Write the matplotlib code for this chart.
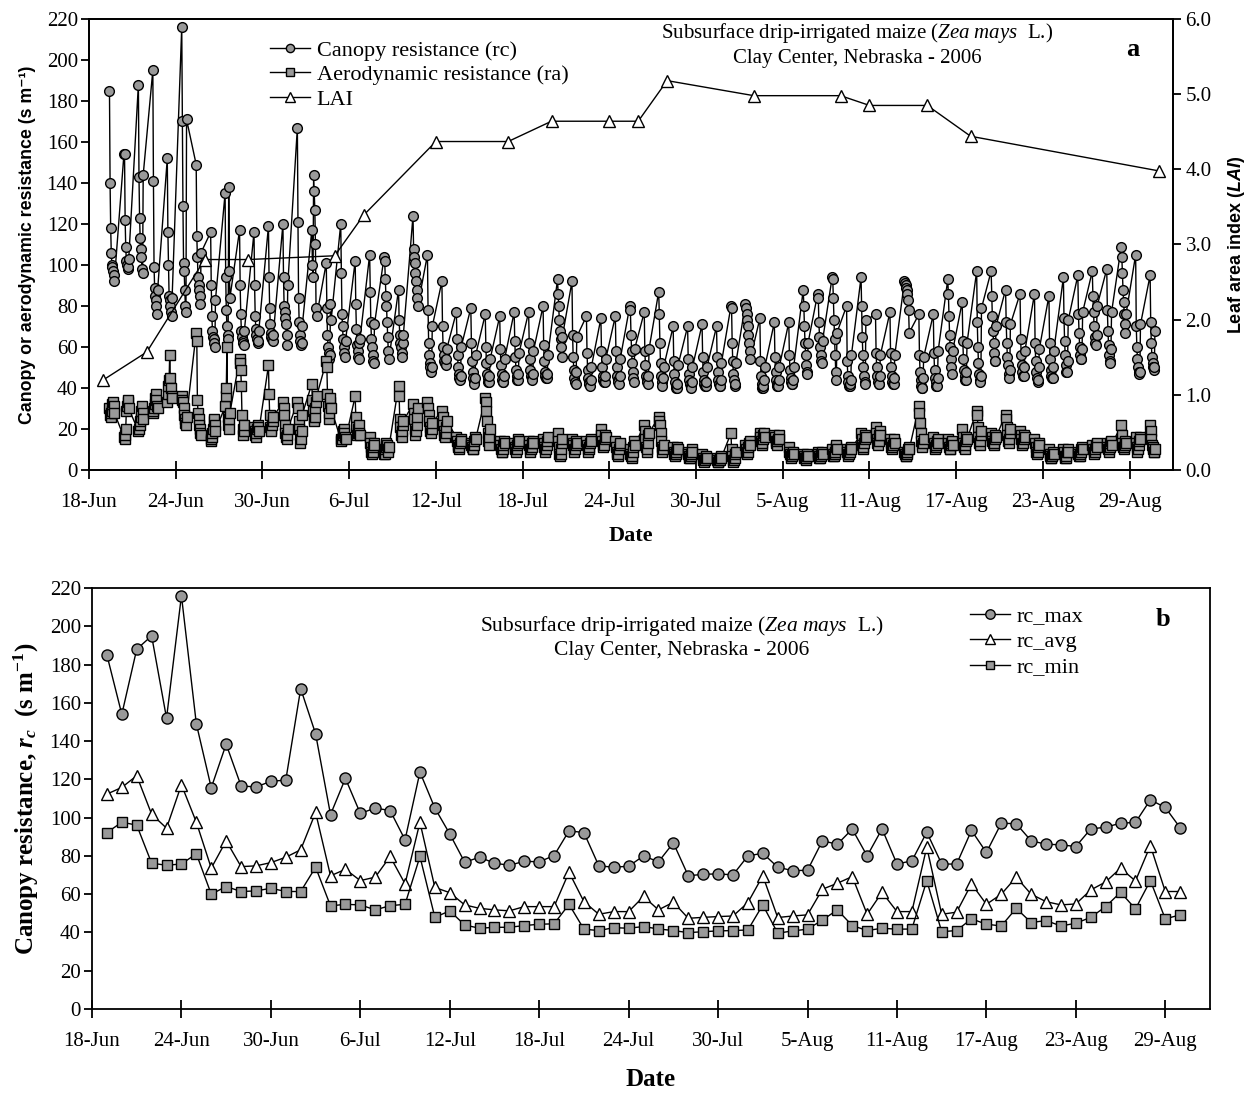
import numpy as np
import pandas as pd
import matplotlib
matplotlib.use("Agg")
import matplotlib.pyplot as plt

# Fonts: serif for ticks/legend, custom mathtext for italics in labels
plt.rcParams["font.family"] = ["Liberation Serif", "DejaVu Serif"]
plt.rcParams["mathtext.fontset"] = "custom"
plt.rcParams["mathtext.rm"] = "Liberation Serif"
plt.rcParams["mathtext.it"] = "Liberation Serif:italic"
plt.rcParams["mathtext.bf"] = "Liberation Serif:bold"
plt.rcParams["mathtext.cal"] = "Liberation Serif:italic:bold"
plt.rcParams["mathtext.sf"] = "Liberation Sans:italic:bold"

# Days with canopy resistance estimates
days = pd.date_range("2006-06-19", "2006-08-30", freq="D")

# Daily canopy resistance statistics (s m-1)
rc_max = [185, 154, 188, 195, 152, 216, 149, 115.6, 138.4, 116.6, 116, 119,
          119.6, 167.4, 143.8, 101.6, 120.5, 102.2, 105, 103.7, 88.4, 123.8,
          105, 91.5, 76.7, 79.3, 76.2, 75.1, 77.2, 76.9, 80.2, 93.1,
          92.2, 74.8, 74.1, 74.6, 80, 76.9, 86.8, 69.6, 70.4, 70.6, 70.1,
          80, 81.4, 74.1, 72.3, 72.5, 87.9, 86.1, 94, 80, 94.1,
          75.8, 77.4, 92.4, 75.8, 75.7, 93.3, 81.8, 97.1, 96.8, 87.9,
          86.1, 85.8, 84.9, 94.1, 95, 97.1, 97.5, 109.3, 105.3, 94.7]
rc_avg = [112.3, 115.8, 121.9, 101.8, 94.5, 117.2, 97.6, 73.6, 87.9, 74.4, 74.8, 76.5,
          79.3, 83.2, 102.7, 69.6, 73, 67.1, 68.9, 79.7, 65.4, 97.6,
          63.5, 60.8, 54.4, 52.6, 51.8, 51.3, 53.5, 53.5, 53.5, 71.5,
          56.1, 49.5, 50.9, 50.9, 58.8, 51.8, 55.8, 47.4, 47.9, 48.3, 48.6,
          55.6, 69.6, 47.8, 48.6, 49.2, 62.6, 65.7, 69.2, 49.5, 61,
          50.9, 50.9, 84.6, 49.5, 50.6, 65.4, 54.7, 60, 68.9, 60,
          56.1, 54.4, 54.9, 62.2, 66.4, 73.6, 66.9, 85.4, 61.4, 61.4]
rc_min = [92.2, 97.6, 96.1, 76.2, 75.1, 75.8, 81.1, 60, 64, 61.4, 61.7, 63.1,
          61.4, 61.4, 74.1, 53.9, 54.7, 54.4, 51.8, 54, 54.7, 79.7,
          47.9, 51.3, 43.9, 42.2, 42.7, 42.7, 43.6, 44.3, 44.5, 54.7,
          41.7, 41, 42.5, 42.2, 43.1, 41.8, 41, 39.9, 40.4, 40.8, 41,
          41.3, 54.4, 39.6, 40.8, 41.7, 46.5, 51.8, 43.6, 41, 42.2,
          41.7, 41.8, 67.1, 40.4, 41, 47.1, 44.3, 43.4, 52.6, 45.2,
          46.2, 43.4, 44.8, 47.9, 53.5, 61, 52.3, 67.1, 47.1, 49.2]

# Hour of day for each daytime value
hours = [10, 11, 12, 13, 14, 15, 16, 17, 18]

# Hourly canopy resistance, one list per day
rc_hourly = [
    [185, 140, 118, 106, 100, 99, 97, 95, 92],
    [154, 154, 122, 109, 102, 100, 98, 99, 103],
    [188, 143, 123, 113, 108, 104, 98, 96, 144],
    [195, 141, 99, 89, 85, 83, 80, 76, 88],
    [152, 116, 100, 85, 83, 80, 77, 75, 84],
    [216, 170, 129, 101, 97, 88, 80, 77, 171],
    [149, 114, 104, 94, 90, 88, 85, 81, 106],
    [116, 90, 75, 68, 65, 64, 62, 60, 83],
    [135, 94, 78, 70, 66, 64, 138, 97, 84],
    [117, 90, 76, 68, 65, 63, 62, 61, 68],
    [116, 90, 75, 69, 66, 64, 62, 63, 68],
    [119, 94, 79, 71, 67, 65, 64, 63, 66],
    [120, 94, 80, 77, 74, 71, 66, 61, 90],
    [167, 121, 84, 72, 66, 63, 61, 62, 70],
    [117, 100, 94, 144, 136, 127, 110, 79, 75],
    [101, 79, 66, 60, 57, 54, 56, 81, 73],
    [120, 96, 76, 70, 64, 60, 57, 55, 63],
    [102, 81, 69, 61, 58, 55, 54, 62, 64],
    [105, 87, 72, 64, 60, 56, 53, 52, 71],
    [104, 102, 93, 85, 80, 72, 65, 58, 54],
    [88, 73, 66, 62, 60, 57, 55, 62, 66],
    [124, 108, 104, 101, 96, 92, 88, 84, 80],
    [105, 78, 62, 56, 52, 50, 48, 50, 70],
    [92, 70, 60, 56, 53, 52, 51, 54, 59],
    [77, 64, 56, 50, 47, 45, 44, 46, 60],
    [79, 62, 53, 48, 45, 43, 42, 45, 56],
    [76, 60, 52, 47, 45, 43, 43, 46, 54],
    [75, 59, 51, 47, 44, 43, 43, 46, 54],
    [77, 63, 55, 49, 46, 44, 44, 47, 57],
    [77, 62, 54, 49, 46, 45, 44, 47, 58],
    [80, 61, 53, 48, 46, 45, 45, 47, 56],
    [93, 86, 80, 73, 68, 64, 60, 55, 65],
    [92, 66, 55, 49, 45, 43, 42, 48, 65],
    [75, 57, 49, 45, 43, 42, 41, 44, 50],
    [74, 58, 50, 46, 44, 43, 43, 46, 54],
    [75, 58, 50, 46, 44, 43, 42, 46, 54],
    [80, 78, 66, 58, 52, 48, 45, 43, 59],
    [77, 58, 51, 46, 44, 43, 42, 46, 59],
    [87, 76, 62, 52, 46, 43, 41, 45, 50],
    [70, 53, 47, 43, 41, 40, 40, 42, 51],
    [70, 54, 47, 44, 42, 41, 40, 43, 50],
    [71, 55, 48, 44, 42, 41, 41, 43, 50],
    [70, 55, 48, 44, 42, 41, 41, 44, 52],
    [80, 79, 62, 53, 47, 44, 41, 42, 52],
    [81, 79, 76, 73, 70, 66, 62, 58, 54],
    [74, 53, 46, 42, 40, 40, 41, 44, 50],
    [72, 55, 48, 44, 42, 41, 41, 44, 50],
    [72, 56, 49, 45, 43, 42, 42, 44, 50],
    [88, 80, 70, 62, 56, 51, 48, 47, 62],
    [86, 84, 72, 65, 60, 56, 53, 52, 63],
    [94, 93, 84, 73, 64, 56, 48, 44, 67],
    [80, 53, 46, 43, 41, 41, 42, 44, 56],
    [94, 80, 65, 56, 50, 46, 43, 42, 73],
    [76, 57, 50, 46, 43, 42, 42, 46, 56],
    [77, 57, 50, 46, 43, 42, 42, 45, 56],
    [92, 91, 90, 89, 88, 86, 83, 78, 67],
    [76, 56, 48, 44, 41, 40, 40, 45, 55],
    [76, 57, 49, 45, 43, 41, 41, 45, 58],
    [93, 86, 75, 66, 60, 54, 50, 47, 58],
    [82, 63, 54, 49, 46, 44, 44, 48, 62],
    [97, 72, 60, 52, 47, 44, 43, 46, 79],
    [97, 85, 75, 68, 62, 57, 53, 53, 70],
    [88, 72, 62, 55, 51, 47, 45, 49, 71],
    [86, 64, 56, 51, 48, 46, 46, 50, 58],
    [86, 62, 53, 48, 45, 43, 44, 50, 59],
    [85, 62, 54, 49, 46, 45, 45, 50, 58],
    [94, 74, 63, 56, 51, 48, 48, 53, 73],
    [95, 76, 67, 60, 56, 54, 54, 59, 77],
    [97, 85, 77, 70, 65, 62, 61, 66, 80],
    [98, 78, 68, 61, 56, 53, 52, 59, 77],
    [109, 104, 96, 88, 82, 76, 71, 67, 76],
    [105, 70, 60, 54, 50, 48, 47, 48, 71],
    [95, 72, 62, 55, 52, 50, 49, 50, 68],
]

# Hourly aerodynamic resistance, one list per day
ra_hourly = [
    [30, 27, 26, 28, 29, 32, 33, 31, 28],
    [16, 15, 17, 20, 29, 31, 33, 34, 30],
    [19, 20, 22, 24, 26, 29, 31, 28, 25],
    [28, 29, 30, 32, 35, 37, 34, 31, 30],
    [33, 37, 41, 44, 56, 45, 40, 36, 35],
    [36, 34, 33, 30, 27, 25, 23, 22, 26],
    [67, 63, 34, 28, 25, 22, 20, 18, 17],
    [14, 15, 16, 18, 20, 24, 25, 22, 19],
    [31, 36, 40, 60, 26, 22, 20, 25, 28],
    [54, 52, 49, 41, 27, 20, 17, 19, 22],
    [21, 19, 17, 16, 18, 20, 22, 21, 19],
    [51, 37, 27, 21, 20, 19, 22, 24, 26],
    [33, 30, 27, 22, 18, 16, 15, 17, 20],
    [33, 30, 24, 20, 17, 13, 15, 19, 27],
    [42, 34, 29, 25, 24, 26, 30, 33, 36],
    [53, 50, 37, 31, 25, 28, 33, 35, 30],
    [15, 14, 15, 17, 19, 20, 18, 16, 15],
    [36, 26, 21, 17, 18, 20, 22, 18, 17],
    [16, 13, 11, 9, 8, 9, 11, 13, 12],
    [8, 8, 10, 11, 13, 12, 10, 9, 11],
    [41, 36, 25, 21, 17, 16, 19, 22, 24],
    [32, 28, 25, 20, 17, 19, 22, 26, 30],
    [33, 30, 27, 24, 21, 19, 18, 20, 23],
    [29, 26, 22, 19, 17, 16, 18, 21, 24],
    [16, 14, 12, 11, 10, 11, 13, 15, 14],
    [13, 12, 11, 10, 10, 12, 14, 16, 15],
    [35, 33, 29, 24, 18, 14, 12, 16, 20],
    [14, 12, 10, 9, 9, 10, 12, 14, 13],
    [13, 11, 10, 9, 10, 12, 13, 15, 14],
    [14, 12, 10, 9, 10, 11, 13, 14, 13],
    [15, 13, 11, 10, 9, 10, 12, 14, 16],
    [18, 14, 11, 8, 7, 8, 10, 13, 15],
    [15, 13, 12, 10, 9, 10, 12, 14, 13],
    [14, 12, 10, 9, 10, 11, 13, 15, 14],
    [20, 17, 14, 12, 11, 12, 15, 17, 16],
    [14, 11, 9, 8, 7, 8, 10, 12, 13],
    [10, 8, 7, 6, 7, 9, 11, 14, 12],
    [22, 19, 15, 11, 9, 10, 13, 17, 18],
    [26, 24, 22, 18, 14, 11, 9, 10, 12],
    [11, 9, 8, 7, 8, 9, 10, 11, 10],
    [9, 8, 7, 6, 6, 7, 8, 10, 9],
    [8, 6, 5, 5, 4, 5, 6, 7, 6],
    [6, 5, 4, 4, 5, 5, 6, 7, 6],
    [18, 10, 7, 5, 4, 5, 6, 8, 9],
    [12, 10, 9, 8, 9, 11, 13, 14, 12],
    [18, 16, 14, 12, 13, 15, 17, 18, 16],
    [17, 16, 14, 13, 12, 14, 15, 17, 15],
    [11, 9, 8, 7, 6, 7, 8, 9, 8],
    [8, 7, 6, 6, 5, 6, 7, 8, 7],
    [9, 8, 7, 6, 6, 7, 8, 9, 8],
    [10, 8, 7, 7, 8, 9, 11, 12, 10],
    [10, 9, 8, 7, 8, 9, 10, 11, 10],
    [18, 15, 12, 10, 11, 13, 15, 17, 16],
    [21, 18, 15, 13, 12, 14, 17, 19, 17],
    [15, 13, 11, 10, 11, 12, 14, 15, 13],
    [9, 8, 7, 7, 8, 9, 10, 11, 10],
    [31, 28, 23, 18, 14, 12, 11, 13, 15],
    [16, 13, 11, 10, 11, 12, 14, 15, 13],
    [15, 13, 11, 10, 10, 12, 13, 14, 12],
    [20, 16, 13, 11, 10, 12, 14, 16, 15],
    [29, 27, 21, 16, 13, 12, 14, 17, 19],
    [18, 16, 14, 13, 12, 13, 15, 17, 16],
    [27, 25, 21, 17, 14, 13, 15, 18, 20],
    [19, 17, 15, 13, 12, 13, 15, 17, 16],
    [15, 13, 11, 9, 8, 9, 11, 13, 12],
    [10, 8, 7, 6, 6, 7, 8, 9, 8],
    [10, 9, 7, 6, 6, 7, 9, 10, 9],
    [9, 8, 7, 7, 8, 9, 10, 11, 10],
    [12, 10, 9, 8, 9, 10, 12, 13, 11],
    [13, 11, 10, 9, 10, 11, 13, 14, 12],
    [22, 17, 13, 11, 10, 11, 12, 14, 13],
    [16, 13, 11, 9, 10, 12, 14, 16, 15],
    [22, 19, 15, 12, 11, 10, 9, 9, 10],
]

# Leaf area index sampling dates
lai_dates = pd.to_datetime(["2006-06-19", "2006-06-22", "2006-06-26", "2006-06-29",
                            "2006-07-05", "2006-07-07", "2006-07-12", "2006-07-17",
                            "2006-07-20", "2006-07-24", "2006-07-26", "2006-07-28",
                            "2006-08-03", "2006-08-09", "2006-08-11", "2006-08-15",
                            "2006-08-18", "2006-08-31"])
lai = [1.20, 1.57, 2.80, 2.80, 2.85, 3.39, 4.37, 4.37, 4.64, 4.64,
       4.64, 5.18, 4.98, 4.98, 4.85, 4.85, 4.44, 3.98]

tick_dates = pd.date_range("2006-06-18", "2006-08-29", freq="6D")
tick_labels = ["18-Jun", "24-Jun", "30-Jun", "6-Jul", "12-Jul", "18-Jul", "24-Jul",
               "30-Jul", "5-Aug", "11-Aug", "17-Aug", "23-Aug", "29-Aug"]
x_start = pd.Timestamp("2006-06-18")
x_end = pd.Timestamp("2006-09-01")

# Flatten hourly series into timestamps
t_hourly, rc_flat, ra_flat = [], [], []
for d, rcs, ras in zip(days, rc_hourly, ra_hourly):
    for h, rc, ra in zip(hours, rcs, ras):
        t_hourly.append(d + pd.Timedelta(hours=h))
        rc_flat.append(rc)
        ra_flat.append(ra)

GRAY = "#999999"
fig = plt.figure(figsize=(12.55, 10.94), dpi=100)

sans_bold = dict(family=["Liberation Sans", "DejaVu Sans"], fontweight="bold")
title_1 = "Subsurface drip-irrigated maize ($\\mathit{Zea\\ mays}$  L.)"
title_2 = "Clay Center, Nebraska - 2006"


def style_xaxis(ax):
    ax.set_xlim(x_start, x_end)
    ax.set_xticks(tick_dates)
    ax.set_xticklabels(tick_labels)
    ax.tick_params(axis="x", direction="inout", length=13, width=1.3, labelsize=15, pad=10)
    ax.tick_params(axis="y", direction="out", length=6, width=1.3, labelsize=15, pad=2)
    for s in ax.spines.values():
        s.set_linewidth(1.3)


# ---- panel a: hourly resistances and LAI ----
ax1 = fig.add_axes([89 / 1255, 1 - 470 / 1094, (1173 - 89) / 1255, (470 - 19) / 1094])
ax1.plot(t_hourly, rc_flat, "-o", color="black", lw=1.0, ms=7,
         mfc=GRAY, mec="black", mew=1.0, label="Canopy resistance (rc)")
ax1.plot(t_hourly, ra_flat, "-s", color="black", lw=1.0, ms=7.5,
         mfc=GRAY, mec="black", mew=1.0, label="Aerodynamic resistance (ra)")
ax1.set_ylim(0, 220)
ax1.set_yticks(range(0, 221, 20))
style_xaxis(ax1)
ax1.set_ylabel("Canopy or aerodynamic resistance (s m⁻¹)", fontsize=12.8, labelpad=8, **sans_bold)
ax1.set_xlabel("Date", fontsize=16, fontweight="bold", labelpad=10)

ax1r = ax1.twinx()
ax1r.plot(lai_dates, lai, "-^", color="black", lw=1.0, ms=8,
          mfc="white", mec="black", mew=1.0, label="LAI")
ax1r.set_ylim(0, 6)
ax1r.set_yticks(np.arange(0, 6.1, 1.0))
ax1r.set_yticklabels([f"{v:.1f}" for v in np.arange(0, 6.1, 1.0)])
ax1r.tick_params(axis="y", direction="out", length=6, width=1.3, labelsize=15, pad=3)
ax1r.set_ylabel("Leaf area index ($\\mathsf{LAI}$)", fontsize=13, labelpad=10, **sans_bold)
for s in ax1r.spines.values():
    s.set_linewidth(1.3)

h1, l1 = ax1.get_legend_handles_labels()
h2, l2 = ax1r.get_legend_handles_labels()
ax1r.legend(h1 + h2, l1 + l2, loc="upper left", bbox_to_anchor=(270 / 1255, 1 - 40 / 1094),
            bbox_transform=fig.transFigure, frameon=False, fontsize=16, markerscale=0.85,
            handlelength=1.8, handletextpad=0.3, labelspacing=0.18, borderpad=0, borderaxespad=0)

fig.text(857 / 1255, 1 - 33 / 1094, title_1, ha="center", va="center", fontsize=15)
fig.text(857 / 1255, 1 - 58 / 1094, title_2, ha="center", va="center", fontsize=15)
fig.text(1133 / 1255, 1 - 50 / 1094, "a", ha="center", va="center", fontsize=19, fontweight="bold")

# ---- panel b: daily canopy resistance statistics ----
ax2 = fig.add_axes([92 / 1255, 1 - 1009 / 1094, 1118 / 1255, 421 / 1094])
ax2.plot(days, rc_max, "-o", color="black", lw=1.0, ms=8,
         mfc=GRAY, mec="black", mew=1.0, label="rc_max")
ax2.plot(days, rc_avg, "-^", color="black", lw=1.0, ms=8.5,
         mfc="white", mec="black", mew=1.0, label="rc_avg")
ax2.plot(days, rc_min, "-s", color="black", lw=1.0, ms=7.5,
         mfc=GRAY, mec="black", mew=1.0, label="rc_min")
ax2.set_ylim(0, 220)
ax2.set_yticks(range(0, 221, 20))
style_xaxis(ax2)
ax2.set_ylabel("Canopy resistance, $\\mathcal{r}_\\mathcal{c}$  (s m$^{\\mathbf{-1}}$)", fontsize=18,
               fontweight="bold", labelpad=6)
ax2.set_xlabel("Date", fontsize=18, fontweight="bold", labelpad=12)
ax2.legend(loc="upper left", bbox_to_anchor=(970 / 1255, 1 - 606 / 1094),
           bbox_transform=fig.transFigure, frameon=False, fontsize=16, markerscale=0.85,
           handlelength=1.8, handletextpad=0.3, labelspacing=0.22, borderpad=0, borderaxespad=0)

fig.text(682 / 1255, 1 - 626 / 1094, title_1, ha="center", va="center", fontsize=15.5)
fig.text(682 / 1255, 1 - 650 / 1094, title_2, ha="center", va="center", fontsize=15.5)
fig.text(1163 / 1255, 1 - 619 / 1094, "b", ha="center", va="center", fontsize=19, fontweight="bold")

fig.savefig("out.png", dpi=100)
